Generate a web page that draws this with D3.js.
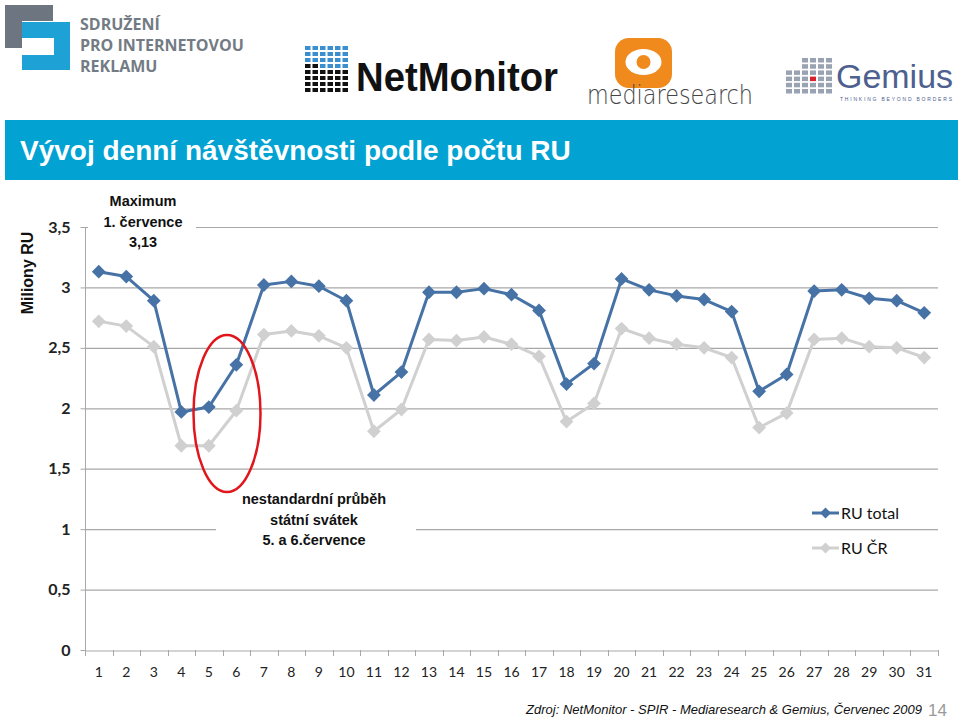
<!DOCTYPE html>
<html><head><meta charset="utf-8">
<script src="https://cdn.jsdelivr.net/npm/d3@7/dist/d3.min.js"></script>
<style>body{margin:0;background:#fff}svg{display:block}</style>
</head><body><svg id="c" width="960" height="719"></svg>
<script>
const days = d3.range(1, 32).map(String);
const ruTotal = [3.13,3.09,2.89,1.97,2.01,2.36,3.02,3.05,3.01,2.89,2.11,2.30,2.96,2.96,2.99,2.94,2.81,2.20,2.37,3.07,2.98,2.93,2.90,2.80,2.14,2.28,2.97,2.98,2.91,2.89,2.79];
const ruCR = [2.72,2.68,2.51,1.69,1.69,1.98,2.61,2.64,2.60,2.50,1.81,1.99,2.57,2.56,2.59,2.53,2.43,1.89,2.04,2.66,2.58,2.53,2.50,2.42,1.84,1.96,2.57,2.58,2.51,2.50,2.42];
const yTicks = [0,0.5,1,1.5,2,2.5,3,3.5];
const seriesNames = ["RU total","RU ČR"];
const seriesColors = ["#4672a6","#d0d0d0"];
const title = "Vývoj denní návštěvnosti podle počtu RU";
const yTitle = "Miliony RU";
const noteMax = ["Maximum","1. července","3,13"];
const noteHoliday = ["nestandardní průběh","státní svátek","5. a 6.července"];
const source = "Zdroj: NetMonitor - SPIR - Mediaresearch & Gemius, Červenec 2009";
const pageNo = "14";

const svg = d3.select("#c");
const x = d3.scaleBand().domain(days).range([85, 938]);
const y = d3.scaleLinear().domain([0, 3.5]).range([650, 227]);
const fmt = v => String(v).replace(".", ",");
const cx = d => x(d) + x.bandwidth()/2;

// ---------- logos ----------
const logo = svg.append("g");
// SPIR
logo.append("path").attr("fill","#6d7680")
  .attr("d","M5,5H53V21H22V48H5Z");
logo.append("path").attr("fill","#1ea2d6")
  .attr("d","M22,22H70V70H22V55H54V38H22Z");
const spir = logo.append("g").attr("fill","#737b84").attr("font-family","Open Sans, sans-serif")
  .attr("font-weight","bold").attr("font-size","16px");
["SDRUŽENÍ","PRO INTERNETOVOU","REKLAMU"].forEach((t,i)=>
  spir.append("text").attr("x",80).attr("y",30+i*21).text(t));
// NetMonitor
for (let r=0;r<8;r++) for (let c=0;c<6;c++){
  logo.append("rect").attr("x",305+c*7.5).attr("y",46+r*6).attr("width",5.5).attr("height",4)
    .attr("fill", (r<4 && !(r==3 && c<2)) ? "#3b8fcf" : "#111");
}
logo.append("text").attr("x",356).attr("y",91).attr("font-family","Liberation Sans, Arial, sans-serif")
  .attr("font-weight","bold").attr("font-size","40px").attr("textLength",202).attr("lengthAdjust","spacingAndGlyphs")
  .attr("fill","#111").text("NetMonitor");
// mediaresearch
logo.append("rect").attr("x",615).attr("y",38).attr("width",57).attr("height",50).attr("rx",14).attr("fill","#f08a1c");
logo.append("ellipse").attr("cx",643.5).attr("cy",62).attr("rx",18).attr("ry",13).attr("fill","#fff");
logo.append("circle").attr("cx",643.5).attr("cy",62).attr("r",7).attr("fill","#f08a1c");
logo.append("text").attr("x",587).attr("y",104).attr("font-family","DejaVu Sans, sans-serif")
  .attr("font-weight","200").attr("font-size","27px").attr("textLength",166).attr("lengthAdjust","spacingAndGlyphs")
  .attr("fill","#444").text("mediaresearch");
// Gemius
for (let c=0;c<6;c++) for (let r=0;r<6;r++){
  if (c<2 && r<2) continue;
  logo.append("rect").attr("x",786+c*8).attr("y",58+r*6.2).attr("width",6).attr("height",4.5)
    .attr("fill",(c==3&&r==3)?"#d8202a":"#9aa3b3");
}
logo.append("text").attr("x",836).attr("y",88).attr("font-family","Liberation Sans, Arial, sans-serif")
  .attr("font-size","34px").attr("textLength",117).attr("lengthAdjust","spacingAndGlyphs")
  .attr("fill","#4d6090").text("Gemius");
logo.append("text").attr("x",840).attr("y",101).attr("font-family","Liberation Sans, Arial, sans-serif")
  .attr("font-size","5px").attr("textLength",112).attr("lengthAdjust","spacing")
  .attr("fill","#4d6090").text("THINKING BEYOND BORDERS");

// ---------- title bar ----------
svg.append("rect").attr("x",5).attr("y",120).attr("width",953).attr("height",60).attr("fill","#02a3d3");
svg.append("text").attr("x",20).attr("y",160).attr("fill","#fff")
  .attr("font-family","Liberation Sans, Arial, sans-serif").attr("font-size","28px").attr("font-weight","bold")
  .text(title);

// ---------- grid & axes ----------
const grid = svg.append("g");
grid.selectAll("line").data(yTicks.filter(v=>v>0)).join("line")
  .attr("x1",85).attr("x2",938).attr("y1",d=>y(d)+0.5).attr("y2",d=>y(d)+0.5)
  .attr("stroke","#a8a8a8").attr("stroke-width",1.2);

const yAxis = svg.append("g").attr("transform","translate(85.5,0)")
  .call(d3.axisLeft(y).tickValues(yTicks).tickFormat(fmt).tickSize(5).tickPadding(10));
yAxis.select(".domain").attr("stroke","#a8a8a8").attr("d","M0,"+y(3.5)+"V"+y(0));
yAxis.selectAll(".tick line").attr("stroke","#a8a8a8");
yAxis.selectAll("text").attr("font-family","Lato, sans-serif").attr("font-size","16px")
  .attr("font-weight","bold").attr("fill","#222");

const xAxis = svg.append("g").attr("transform","translate(0,650.5)")
  .call(d3.axisBottom(x).tickSize(0).tickPadding(17));
xAxis.select(".domain").attr("stroke","#a8a8a8").attr("stroke-width",1.2);
xAxis.selectAll("text").attr("font-family","Lato, sans-serif").attr("font-size","14px").attr("fill","#222");
svg.append("g").selectAll("line").data(days.concat(["end"])).join("line")
  .attr("x1",(d,i)=>Math.round(85+i*x.step())+0.5).attr("x2",(d,i)=>Math.round(85+i*x.step())+0.5)
  .attr("y1",650).attr("y2",656).attr("stroke","#a8a8a8");

svg.append("text").attr("transform","translate(33,273) rotate(-90)").attr("text-anchor","middle")
  .attr("font-family","Liberation Sans, Arial, sans-serif").attr("font-weight","bold").attr("font-size","16px")
  .attr("fill","#111").text(yTitle);

// ---------- annotation boxes (cover gridlines) ----------
svg.append("rect").attr("x",88).attr("y",190).attr("width",108).attr("height",62).attr("fill","#fff");
const n1 = svg.append("g").attr("font-family","Liberation Sans, Arial, sans-serif").attr("font-weight","bold")
  .attr("font-size","14.5px").attr("fill","#111").attr("text-anchor","middle");
noteMax.forEach((t,i)=>n1.append("text").attr("x",143).attr("y",206+i*20.5).text(t));

svg.append("rect").attr("x",216).attr("y",488).attr("width",200).attr("height",62).attr("fill","#fff");
const n2 = svg.append("g").attr("font-family","Liberation Sans, Arial, sans-serif").attr("font-weight","bold")
  .attr("font-size","14.5px").attr("fill","#111").attr("text-anchor","middle");
noteHoliday.forEach((t,i)=>n2.append("text").attr("x",314).attr("y",504+i*20.5).text(t));

// ---------- series ----------
const line = d3.line().x((d,i)=>cx(days[i])).y(d=>y(d));
[[ruCR,seriesColors[1]],[ruTotal,seriesColors[0]]].forEach(([vals,col])=>{
  svg.append("path").datum(vals).attr("d",line).attr("fill","none").attr("stroke",col)
    .attr("stroke-width",3).attr("stroke-linejoin","round");
  svg.append("g").selectAll("path").data(vals).join("path")
    .attr("transform",(d,i)=>`translate(${cx(days[i])},${y(d)}) rotate(45)`)
    .attr("d",d3.symbol().type(d3.symbolSquare).size(95)).attr("fill",col);
});

// red ellipse
svg.append("ellipse").attr("cx",227).attr("cy",413.5).attr("rx",33.5).attr("ry",78.5)
  .attr("fill","none").attr("stroke","#e0161c").attr("stroke-width",2.5);

// ---------- legend ----------
const leg = svg.append("g");
seriesNames.forEach((n,i)=>{
  const ly = 513 + i*35;
  const col = seriesColors[i];
  leg.append("line").attr("x1",812).attr("x2",839).attr("y1",ly).attr("y2",ly).attr("stroke",col).attr("stroke-width",3);
  leg.append("path").attr("transform",`translate(825.5,${ly}) rotate(45)`)
    .attr("d",d3.symbol().type(d3.symbolSquare).size(60)).attr("fill",col);
  leg.append("text").attr("x",841).attr("y",ly+6).attr("font-family","Lato, sans-serif")
    .attr("font-size","16px").attr("fill","#111").text(n);
});

// ---------- footer ----------
svg.append("text").attr("x",922).attr("y",714).attr("text-anchor","end")
  .attr("font-family","Liberation Sans, Arial, sans-serif").attr("font-style","italic").attr("font-size","13px")
  .attr("fill","#111").text(source);
svg.append("text").attr("x",928).attr("y",716).attr("font-family","Liberation Sans, Arial, sans-serif")
  .attr("font-size","17px").attr("fill","#9a9a9a").text(pageNo);
</script></body></html>
